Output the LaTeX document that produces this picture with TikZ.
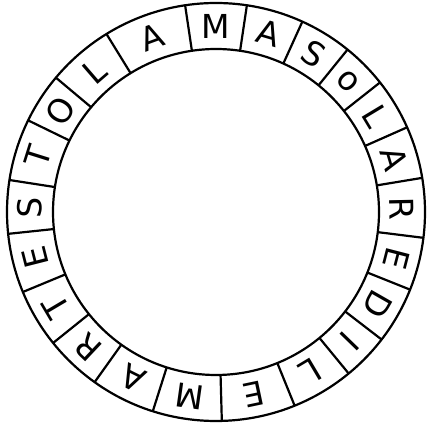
\documentclass[tikz,border=0pt]{standalone}
\usepackage{fontspec}
\setmainfont{DejaVu Sans}
\usetikzlibrary{calc}

\begin{document}
\begin{tikzpicture}[x=1pt, y=1pt,
    ring/.style={line width=2.2pt},
    letter/.style={font=\fontsize{33}{33}\selectfont, inner sep=0pt}]
  \useasboundingbox (0,0) rectangle (429,426);
  \coordinate (c) at (216,214);

  %% Outer and inner circle
  \draw[ring] (c) circle (209pt);
  \draw[ring] (c) circle (163pt);

  %% Cell dividers (hand-drawn, not evenly spaced)
  \foreach \a in {98.5, 81.5, 65.6, 51.0, 38.3, 23.9, 9.4, -7.1, -21.8,
                  -37.6, -50.6, -67.9, -88.4, -107.6, -125.5, -141.2,
                  -157.5, -174, 171.2, 154, 140, 121.6}{
    \draw[ring] ($(c)+(\a:163pt)$) -- ($(c)+(\a:209pt)$);
  }

  %% Letters, clockwise from the top, tops facing out
  \foreach \a/\t [count=\i] in {90/M, 73.55/A, 58.3/S, 44.65/o, 31.1/L,
                  16.65/A, 1.15/R, -14.45/E, -29.7/D, -44.1/I, -59.25/L,
                  -78.15/E, -98/M, -116.55/A, -133.35/R, -149.35/T,
                  -165.75/E, 178.6/S, 162.6/T, 147/O, 130.8/L, 110.05/A}{
    \node[letter, rotate=\a-90] (l\i) at ($(c)+(\a:186pt)$) {\t};
  }
\end{tikzpicture}
\end{document}
